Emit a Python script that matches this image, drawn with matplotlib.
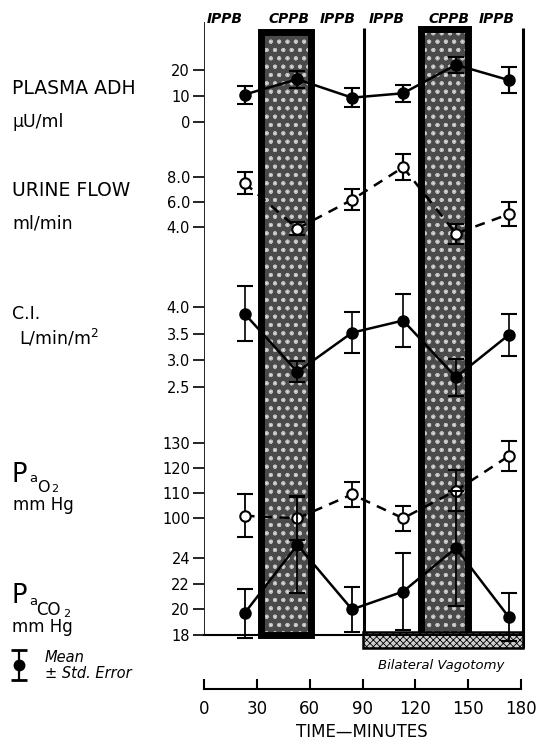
import matplotlib
matplotlib.use("Agg")
import matplotlib.pyplot as plt
from matplotlib.patches import Rectangle

# ---------------- data ----------------
time_min = [23, 53, 84, 113, 143, 173]

adh = [10.5, 16.4, 9.3, 11.0, 22.0, 16.1]
adh_se = [3.5, 3.4, 3.6, 3.3, 3.0, 5.0]

urine = [7.55, 3.9, 6.2, 8.8, 3.5, 5.05]
urine_se = [0.9, 0.5, 0.85, 1.05, 0.8, 0.95]

ci = [3.88, 2.78, 3.52, 3.75, 2.68, 3.48]
ci_se = [0.52, 0.2, 0.39, 0.5, 0.35, 0.4]

pao2 = [101, 100, 109.5, 100, 111, 124.7]
pao2_se = [8.5, 8.5, 5.0, 5.0, 8.0, 6.0]

paco2 = [19.7, 25.05, 20.0, 21.4, 24.8, 19.4]
paco2_se = [1.9, 3.8, 1.75, 3.0, 4.5, 1.9]

phase_labels = ["IPPB", "CPPB", "IPPB", "IPPB", "CPPB", "IPPB"]
cppb_bands = [(32.6, 61.0), (122.9, 150.1)]
separators = [91, 181]
vagotomy = (90, 181)

time_ticks = [0, 30, 60, 90, 120, 150, 180]

adh_ticks = [0, 10, 20]
urine_ticks = [4.0, 6.0, 8.0]
ci_ticks = [2.5, 3.0, 3.5, 4.0]
pao2_ticks = [100, 110, 120, 130]
paco2_ticks = [18, 20, 22, 24]

# ---------------- layout helpers ----------------
W, H = 536, 741
plt.rcParams['font.family'] = ['DejaVu Sans']
plt.rcParams['hatch.linewidth'] = 0.6
fig = plt.figure(figsize=(W / 100, H / 100), dpi=100)

X0_PX = 204.0          # pixel of t = 0
PX_PER_MIN = 1.762
XMAX = 188.0
ax_left = X0_PX / W
ax_width = XMAX * PX_PER_MIN / W


def fy(py):
    return 1 - py / H


def fx(px):
    return px / W


# background axes: x in minutes, y in pixels (inverted)
bg = fig.add_axes([ax_left, 0, ax_width, 1])
bg.set_xlim(0, XMAX)
bg.set_ylim(H, 0)
bg.axis('off')

band_tops = [32, 29]
for (x0, x1), top in zip(cppb_bands, band_tops):
    bg.add_patch(Rectangle((x0, top), x1 - x0, 635 - top, facecolor='#4a4a4a',
                           edgecolor='none', zorder=1))
    bg.add_patch(Rectangle((x0, top), x1 - x0, 635 - top, facecolor='none',
                           edgecolor='#e6e6e6', hatch='..', linewidth=0, zorder=2))
    bg.add_patch(Rectangle((x0, top), x1 - x0, 635 - top, facecolor='none',
                           edgecolor='#bdbdbd', hatch='oo', linewidth=0, zorder=2))
    bg.add_patch(Rectangle((x0, top), x1 - x0, 635 - top, facecolor='none',
                           edgecolor='black', linewidth=5, zorder=3))

# left axis line and separators
bg.vlines(0, 22, 635, color='black', linewidth=1.2, zorder=4)
bg.vlines(separators, 28, 648, color='black', linewidth=2.2, zorder=4)

# vagotomy bar
bg.add_patch(Rectangle((vagotomy[0], 632), vagotomy[1] - vagotomy[0], 16,
                       facecolor='#d0d0d0', edgecolor='black', hatch='xxxxx',
                       linewidth=1.8, zorder=5))

# ---------------- panels ----------------


def make_panel(top, bottom, a, pa, b, pb):
    ax = fig.add_axes([ax_left, fy(bottom), ax_width, (bottom - top) / H])
    ax.patch.set_alpha(0)
    s = (pa - pb) / (b - a)
    ax.set_ylim(a - (bottom - pa) / s, b + (pb - top) / s)
    ax.set_xlim(0, XMAX)
    for sp in ax.spines.values():
        sp.set_visible(False)
    ax.tick_params(axis='y', direction='out', length=8, width=1.2,
                   labelsize=10.5, pad=2)
    ax.tick_params(axis='x', bottom=False, labelbottom=False)
    return ax


def draw(ax, y, err, filled, dashed, elw=1.6):
    mfc = 'black' if filled else 'white'
    ls = (0, (4, 3)) if dashed else '-'
    ax.plot(time_min, y, color='black', linestyle=ls, linewidth=1.8, zorder=5,
            clip_on=False)
    ax.errorbar(time_min, y, yerr=err, fmt='o', color='black', mfc=mfc,
                mec='black', mew=1.5, ms=7.5, ecolor='black', elinewidth=elw,
                capsize=6, capthick=2.0, zorder=6, clip_on=False)


ax1 = make_panel(28, 150, 0, 121.7, 20, 70.0)
ax1.set_yticks(adh_ticks)
ax1.set_yticklabels([str(t) for t in adh_ticks])
draw(ax1, adh, adh_se, True, False)

ax2 = make_panel(150, 270, 4.0, 227.3, 8.0, 177.3)
ax2.set_yticks(urine_ticks)
ax2.set_yticklabels([f"{t:.1f}" for t in urine_ticks])
draw(ax2, urine, urine_se, False, True)

ax3 = make_panel(270, 410, 2.5, 386.7, 4.0, 307.3)
ax3.set_yticks(ci_ticks)
ax3.set_yticklabels([f"{t:.1f}" for t in ci_ticks])
draw(ax3, ci, ci_se, True, False, elw=1.2)

ax4 = make_panel(410, 540, 100, 518.3, 130, 442.7)
ax4.set_yticks(pao2_ticks)
ax4.set_yticklabels([str(t) for t in pao2_ticks])
draw(ax4, pao2, pao2_se, False, True, elw=1.3)

ax5 = make_panel(540, 635, 18, 635.0, 24, 558.3)
ax5.set_yticks(paco2_ticks)
ax5.set_yticklabels([str(t) for t in paco2_ticks])
ax5.spines['bottom'].set_visible(True)
ax5.spines['bottom'].set_linewidth(1.5)
ax5.spines['bottom'].set_bounds(0, 181)
ax5.spines['bottom'].set_zorder(4)
draw(ax5, paco2, paco2_se, True, False, elw=1.3)

# ---------------- time axis ----------------
axt = fig.add_axes([ax_left, fy(689), ax_width, 0.0005])
axt.set_xlim(0, XMAX)
axt.patch.set_alpha(0)
for k in ['top', 'left', 'right']:
    axt.spines[k].set_visible(False)
axt.spines['bottom'].set_bounds(0, 180)
axt.spines['bottom'].set_linewidth(1.5)
axt.set_yticks([])
axt.set_xticks(time_ticks)
axt.set_xticklabels([str(t) for t in time_ticks])
axt.tick_params(axis='x', direction='in', length=7, width=1.5, labelsize=12, pad=8)

fig.text(fx(362), fy(732), "TIME\u2014MINUTES", ha='center', va='center', fontsize=12)

# ---------------- header labels ----------------
label_x_px = [225, 289, 338, 387, 449, 497]
for lab, px in zip(phase_labels, label_x_px):
    fig.text(fx(px), fy(19), lab, ha='center', va='center', fontsize=10,
             fontweight='bold', fontstyle='italic')

fig.text(fx(441), fy(665), "Bilateral Vagotomy", ha='center', va='center',
         fontsize=9.5, fontstyle='italic')

# ---------------- left labels ----------------
fs_lab = 13.5
fig.text(fx(12), fy(89), "PLASMA ADH", ha='left', va='center', fontsize=fs_lab)
fig.text(fx(12), fy(122), "\u03bcU/ml", ha='left', va='center', fontsize=12.5)
fig.text(fx(12), fy(191), "URINE FLOW", ha='left', va='center', fontsize=fs_lab)
fig.text(fx(12), fy(224), "ml/min", ha='left', va='center', fontsize=12.5)
fig.text(fx(12), fy(314), "C.I.", ha='left', va='center', fontsize=12.5)
fig.text(fx(19), fy(338), r"L/min/m$^{2}$", ha='left', va='center', fontsize=12.5)

# PaO2
fig.text(fx(11), fy(482), "P", ha='left', va='baseline', fontsize=18.5)
fig.text(fx(29), fy(482), "a", ha='left', va='baseline', fontsize=9.5)
fig.text(fx(37), fy(492), "O", ha='left', va='baseline', fontsize=11.5)
fig.text(fx(51), fy(492), "2", ha='left', va='baseline', fontsize=8)
fig.text(fx(13), fy(505), "mm Hg", ha='left', va='center', fontsize=12)

# PaCO2
fig.text(fx(11), fy(603), "P", ha='left', va='baseline', fontsize=18.5)
fig.text(fx(29), fy(605), "a", ha='left', va='baseline', fontsize=9.5)
fig.text(fx(36), fy(615), "CO", ha='left', va='baseline', fontsize=12)
fig.text(fx(63), fy(617), "2", ha='left', va='baseline', fontsize=8)
fig.text(fx(12), fy(627), "mm Hg", ha='left', va='center', fontsize=12)

# ---------------- legend key ----------------
key = fig.add_axes([0, 0, 1, 1])
key.set_xlim(0, W)
key.set_ylim(H, 0)
key.axis('off')
key.errorbar([19], [665], yerr=[15], fmt='o', color='black', ms=7.5,
             elinewidth=1.6, capsize=6, capthick=2.0)
fig.text(fx(45), fy(658), "Mean", ha='left', va='center', fontsize=10.5, fontstyle='italic')
fig.text(fx(45), fy(673), "\u00b1 Std. Error", ha='left', va='center', fontsize=10.5,
         fontstyle='italic')

fig.savefig("out.png", dpi=100)
